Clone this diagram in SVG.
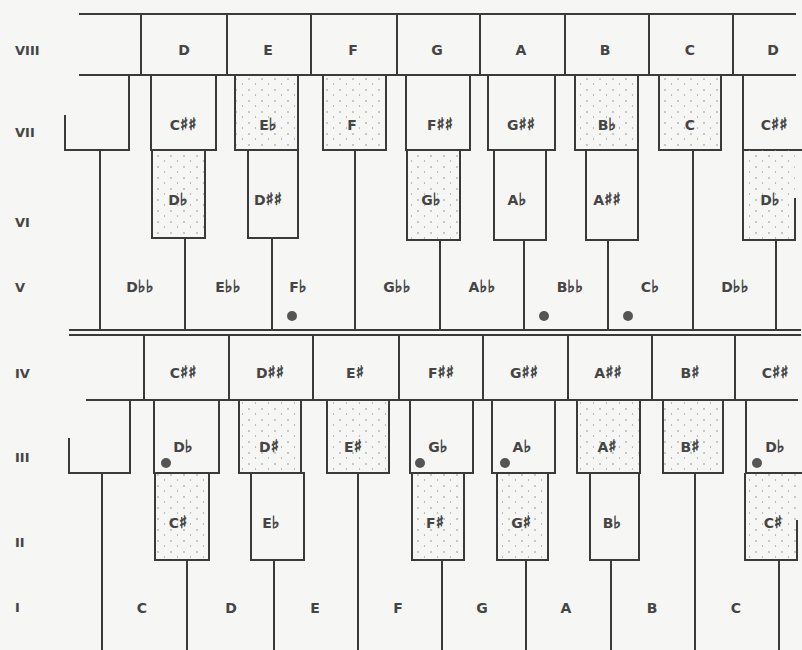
<svg xmlns="http://www.w3.org/2000/svg" width="802" height="650" viewBox="0 0 802 650">
<defs>
<pattern id="stip" width="13" height="11" patternUnits="userSpaceOnUse">
<circle cx="2" cy="2" r="0.8" fill="#8a8a8a"/>
<circle cx="8.5" cy="7" r="0.7" fill="#9a9a9a"/>
</pattern>
<style>
.ln{stroke:#3a3a3a;stroke-width:2;fill:none;stroke-linecap:square}
.bx{stroke:#3a3a3a;stroke-width:2;fill:none}
.st{stroke:#3a3a3a;stroke-width:2;fill:url(#stip)}
.sf{stroke:none;fill:url(#stip)}
.t{font-family:"DejaVu Sans","Liberation Sans",sans-serif;font-weight:bold;font-size:14px;fill:#454545;text-anchor:middle}
.s{font-family:"DejaVu Sans",sans-serif;font-weight:normal;font-size:17px;fill:#454545;stroke:#454545;stroke-width:0.7}
.r{font-family:"DejaVu Sans","Liberation Sans",sans-serif;font-weight:bold;font-size:13px;fill:#454545;text-anchor:start}
.dot{fill:#555}
</style>
</defs>
<rect width="802" height="650" fill="#f6f6f4"/>

<g id="row-labels">
<text class="r" x="15" y="55">VIII</text>
<text class="r" x="15" y="137">VII</text>
<text class="r" x="15" y="227">VI</text>
<text class="r" x="15" y="292">V</text>
<text class="r" x="15" y="378">IV</text>
<text class="r" x="15" y="462">III</text>
<text class="r" x="15" y="547">II</text>
<text class="r" x="15" y="612">I</text>
</g>

<g id="connectors">
<path class="ln" d="M80,14H795M80,75H795M141,14V75M227,14V75M311,14V75M397,14V75M480,14V75M565,14V75M649,14V75M733,14V75"/>
<path class="ln" d="M70,330H800M70,335H800"/>
<path class="ln" d="M100,150V330M185,238V330M272,238V330M355,150V330M440,240V330M524,240V330M608,240V330M693,150V330M776,240V330"/>
<path class="ln" d="M87,400H797M144,335V400M229,335V400M313,335V400M399,335V400M483,335V400M568,335V400M652,335V400M735,335V400"/>
<path class="ln" d="M102,473V650M187,560V650M274,560V650M358,473V650M442,560V650M526,560V650M611,560V650M695,473V650M779,560V650"/>
</g>

<g id="row8">
<g id="k8-D1"><text class="t" x="184" y="55">D</text></g>
<g id="k8-E"><text class="t" x="268" y="55">E</text></g>
<g id="k8-F"><text class="t" x="353" y="55">F</text></g>
<g id="k8-G"><text class="t" x="437" y="55">G</text></g>
<g id="k8-A"><text class="t" x="521" y="55">A</text></g>
<g id="k8-B"><text class="t" x="605" y="55">B</text></g>
<g id="k8-C"><text class="t" x="690" y="55">C</text></g>
<g id="k8-D2"><text class="t" x="773" y="55">D</text></g>
</g>

<g id="row7">
<g id="k7-left"><path class="bx" d="M65,115V150H129V75"/></g>
<g id="k7-Cxx"><rect class="bx" x="151" y="75" width="65" height="75"/><text class="t" x="183" y="130">C<tspan class="s">♯♯</tspan></text></g>
<g id="k7-Eb"><rect class="st" x="235" y="75" width="63" height="75"/><text class="t" x="268" y="130">E<tspan class="s">♭</tspan></text></g>
<g id="k7-F"><rect class="st" x="323" y="75" width="63" height="75"/><text class="t" x="352" y="130">F</text></g>
<g id="k7-Fxx"><rect class="bx" x="406" y="75" width="64" height="75"/><text class="t" x="440" y="130">F<tspan class="s">♯♯</tspan></text></g>
<g id="k7-Gxx"><rect class="bx" x="488" y="75" width="67" height="75"/><text class="t" x="521" y="130">G<tspan class="s">♯♯</tspan></text></g>
<g id="k7-Bb"><rect class="st" x="575" y="75" width="63" height="75"/><text class="t" x="607" y="130">B<tspan class="s">♭</tspan></text></g>
<g id="k7-C"><rect class="st" x="659" y="75" width="62" height="75"/><text class="t" x="690" y="130">C</text></g>
<g id="k7-Cxx2"><path class="bx" d="M743,75V150H802"/><text class="t" x="774" y="130">C<tspan class="s">♯♯</tspan></text></g>
</g>

<g id="row6">
<g id="k6-Db"><rect class="st" x="152" y="150" width="53" height="88"/><text class="t" x="178" y="205">D<tspan class="s">♭</tspan></text></g>
<g id="k6-Dxx"><rect class="bx" x="248" y="150" width="50" height="88"/><text class="t" x="268" y="205">D<tspan class="s">♯♯</tspan></text></g>
<g id="k6-Gb"><rect class="st" x="407" y="150" width="53" height="90"/><text class="t" x="431" y="205">G<tspan class="s">♭</tspan></text></g>
<g id="k6-Ab"><rect class="bx" x="494" y="150" width="52" height="90"/><text class="t" x="517" y="205">A<tspan class="s">♭</tspan></text></g>
<g id="k6-Axx"><rect class="bx" x="586" y="150" width="52" height="90"/><text class="t" x="607" y="205">A<tspan class="s">♯♯</tspan></text></g>
<g id="k6-Db2"><rect class="sf" x="743" y="150" width="52" height="90"/><path class="bx" d="M743,150V240H795V198"/><text class="t" x="770" y="205">D<tspan class="s">♭</tspan></text></g>
</g>

<g id="row5">
<g id="k5-Dbb"><text class="t" x="140" y="292">D<tspan class="s">♭♭</tspan></text></g>
<g id="k5-Ebb"><text class="t" x="228" y="292">E<tspan class="s">♭♭</tspan></text></g>
<g id="k5-Fb"><text class="t" x="298" y="292">F<tspan class="s">♭</tspan></text><circle class="dot" cx="292" cy="316" r="5"/></g>
<g id="k5-Gbb"><text class="t" x="397" y="292">G<tspan class="s">♭♭</tspan></text></g>
<g id="k5-Abb"><text class="t" x="482" y="292">A<tspan class="s">♭♭</tspan></text></g>
<g id="k5-Bbb"><text class="t" x="570" y="292">B<tspan class="s">♭♭</tspan></text><circle class="dot" cx="544" cy="316" r="5"/></g>
<g id="k5-Cb"><text class="t" x="650" y="292">C<tspan class="s">♭</tspan></text><circle class="dot" cx="628" cy="316" r="5"/></g>
<g id="k5-Dbb2"><text class="t" x="735" y="292">D<tspan class="s">♭♭</tspan></text></g>
</g>

<g id="row4">
<g id="k4-Cxx"><text class="t" x="183" y="378">C<tspan class="s">♯♯</tspan></text></g>
<g id="k4-Dxx"><text class="t" x="270" y="378">D<tspan class="s">♯♯</tspan></text></g>
<g id="k4-Ex"><text class="t" x="355" y="378">E<tspan class="s">♯</tspan></text></g>
<g id="k4-Fxx"><text class="t" x="441" y="378">F<tspan class="s">♯♯</tspan></text></g>
<g id="k4-Gxx"><text class="t" x="524" y="378">G<tspan class="s">♯♯</tspan></text></g>
<g id="k4-Axx"><text class="t" x="608" y="378">A<tspan class="s">♯♯</tspan></text></g>
<g id="k4-Bx"><text class="t" x="690" y="378">B<tspan class="s">♯</tspan></text></g>
<g id="k4-Cxx2"><text class="t" x="775" y="378">C<tspan class="s">♯♯</tspan></text></g>
</g>

<g id="row3">
<g id="k3-left"><path class="bx" d="M69,438V473H130V400"/></g>
<g id="k3-Db"><rect class="bx" x="154" y="400" width="65" height="73"/><text class="t" x="183" y="452">D<tspan class="s">♭</tspan></text><circle class="dot" cx="166" cy="463" r="5"/></g>
<g id="k3-Dx"><rect class="st" x="239" y="400" width="62" height="73"/><text class="t" x="269" y="452">D<tspan class="s">♯</tspan></text></g>
<g id="k3-Ex"><rect class="st" x="327" y="400" width="62" height="73"/><text class="t" x="353" y="452">E<tspan class="s">♯</tspan></text></g>
<g id="k3-Gb"><rect class="bx" x="410" y="400" width="63" height="73"/><text class="t" x="438" y="452">G<tspan class="s">♭</tspan></text><circle class="dot" cx="420" cy="463" r="5"/></g>
<g id="k3-Ab"><rect class="bx" x="492" y="400" width="63" height="73"/><text class="t" x="522" y="452">A<tspan class="s">♭</tspan></text><circle class="dot" cx="505" cy="463" r="5"/></g>
<g id="k3-Ax"><rect class="st" x="577" y="400" width="63" height="73"/><text class="t" x="607" y="452">A<tspan class="s">♯</tspan></text></g>
<g id="k3-Bx"><rect class="st" x="663" y="400" width="60" height="73"/><text class="t" x="690" y="452">B<tspan class="s">♯</tspan></text></g>
<g id="k3-Db2"><path class="bx" d="M746,400V473H802"/><text class="t" x="775" y="452">D<tspan class="s">♭</tspan></text><circle class="dot" cx="757" cy="463" r="5"/></g>
</g>

<g id="row2">
<g id="k2-Cx"><rect class="st" x="155" y="473" width="54" height="87"/><text class="t" x="178" y="528">C<tspan class="s">♯</tspan></text></g>
<g id="k2-Eb"><rect class="bx" x="251" y="473" width="53" height="87"/><text class="t" x="271" y="528">E<tspan class="s">♭</tspan></text></g>
<g id="k2-Fx"><rect class="st" x="412" y="473" width="52" height="87"/><text class="t" x="435" y="528">F<tspan class="s">♯</tspan></text></g>
<g id="k2-Gx"><rect class="st" x="497" y="473" width="51" height="87"/><text class="t" x="521" y="528">G<tspan class="s">♯</tspan></text></g>
<g id="k2-Bb"><rect class="bx" x="590" y="473" width="49" height="87"/><text class="t" x="612" y="528">B<tspan class="s">♭</tspan></text></g>
<g id="k2-Cx2"><rect class="sf" x="745" y="473" width="52" height="87"/><path class="bx" d="M745,473V560H797V520"/><text class="t" x="773" y="528">C<tspan class="s">♯</tspan></text></g>
</g>

<g id="row1">
<g id="k1-C"><text class="t" x="142" y="613">C</text></g>
<g id="k1-D"><text class="t" x="231" y="613">D</text></g>
<g id="k1-E"><text class="t" x="315" y="613">E</text></g>
<g id="k1-F"><text class="t" x="398" y="613">F</text></g>
<g id="k1-G"><text class="t" x="482" y="613">G</text></g>
<g id="k1-A"><text class="t" x="566" y="613">A</text></g>
<g id="k1-B"><text class="t" x="652" y="613">B</text></g>
<g id="k1-C2"><text class="t" x="736" y="613">C</text></g>
</g>
</svg>
